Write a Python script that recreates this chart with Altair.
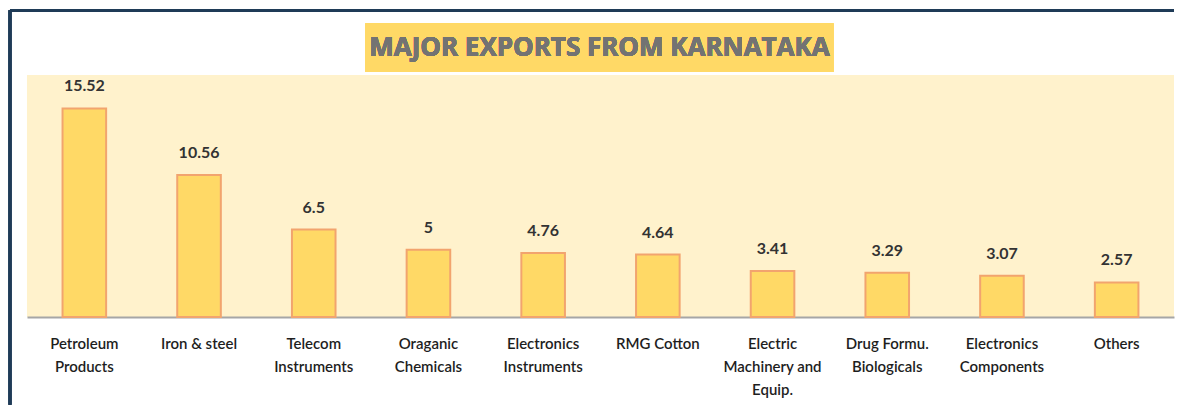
import altair as alt
import pandas as pd

categories = ["Petroleum|Products", "Iron & steel", "Telecom|Instruments", "Oraganic|Chemicals",
              "Electronics|Instruments", "RMG Cotton", "Electric|Machinery and|Equip.",
              "Drug Formu.|Biologicals", "Electronics|Components", "Others"]
values = [15.52, 10.56, 6.5, 5, 4.76, 4.64, 3.41, 3.29, 3.07, 2.57]
title_text = "MAJOR EXPORTS FROM KARNATAKA"

df = pd.DataFrame({"cat": categories, "val": values, "lbl": [f"{v:g}" for v in values]})

FONT = "Lato"
W, H = 1148, 242

x = alt.X("cat:N", sort=categories, title=None,
          scale=alt.Scale(paddingInner=0.62, paddingOuter=0.31),
          axis=alt.Axis(labelAngle=0, labelExpr="split(datum.label, '|')", labelFont=FONT,
                        labelFontSize=15, labelColor="#1e1e1e", labelLineHeight=23,
                        labelPadding=20, ticks=False, domainColor="#a6a6a6", domainWidth=2,
                        labelFontWeight=600))
y = alt.Y("val:Q", title=None, scale=alt.Scale(domain=[0, 18]), axis=None)

base = alt.Chart(df)

bars = base.mark_bar(color="#FFD966", stroke="#F2A46E", strokeWidth=2).encode(x=x, y=y)
labels = base.mark_text(baseline="bottom", dy=-14, font=FONT, fontSize=16, fontWeight="bold",
                        color="#333333").encode(x=x, y=y, text="lbl:N")

title_box = base.mark_rect(color="#FFD966", clip=False).encode(
    x=alt.value(339), x2=alt.value(807), y=alt.value(-52), y2=alt.value(-3))
title = base.mark_text(font="Open Sans", fontSize=26, fontWeight="bold", color="#737373",
                       clip=False).encode(
    x=alt.value(573), y=alt.value(-27), text=alt.value(title_text))

top_border = base.mark_rule(color="#1f3b57", strokeWidth=2.5, clip=False).encode(
    x=alt.value(-17), x2=alt.value(1148), y=alt.value(-65))
left_border = base.mark_rule(color="#1f3b57", strokeWidth=2.5, clip=False).encode(
    x=alt.value(-17), y=alt.value(-65), y2=alt.value(330))

chart = alt.layer(top_border, left_border, title_box, title, bars, labels).properties(
    width=W, height=H, background="white",
    padding={"left": 0, "top": 0, "right": 0, "bottom": 0}
).configure_view(fill="#FFF2CC", stroke=None)

chart.save("out.html", embed_options={"renderer": "svg", "actions": False})
